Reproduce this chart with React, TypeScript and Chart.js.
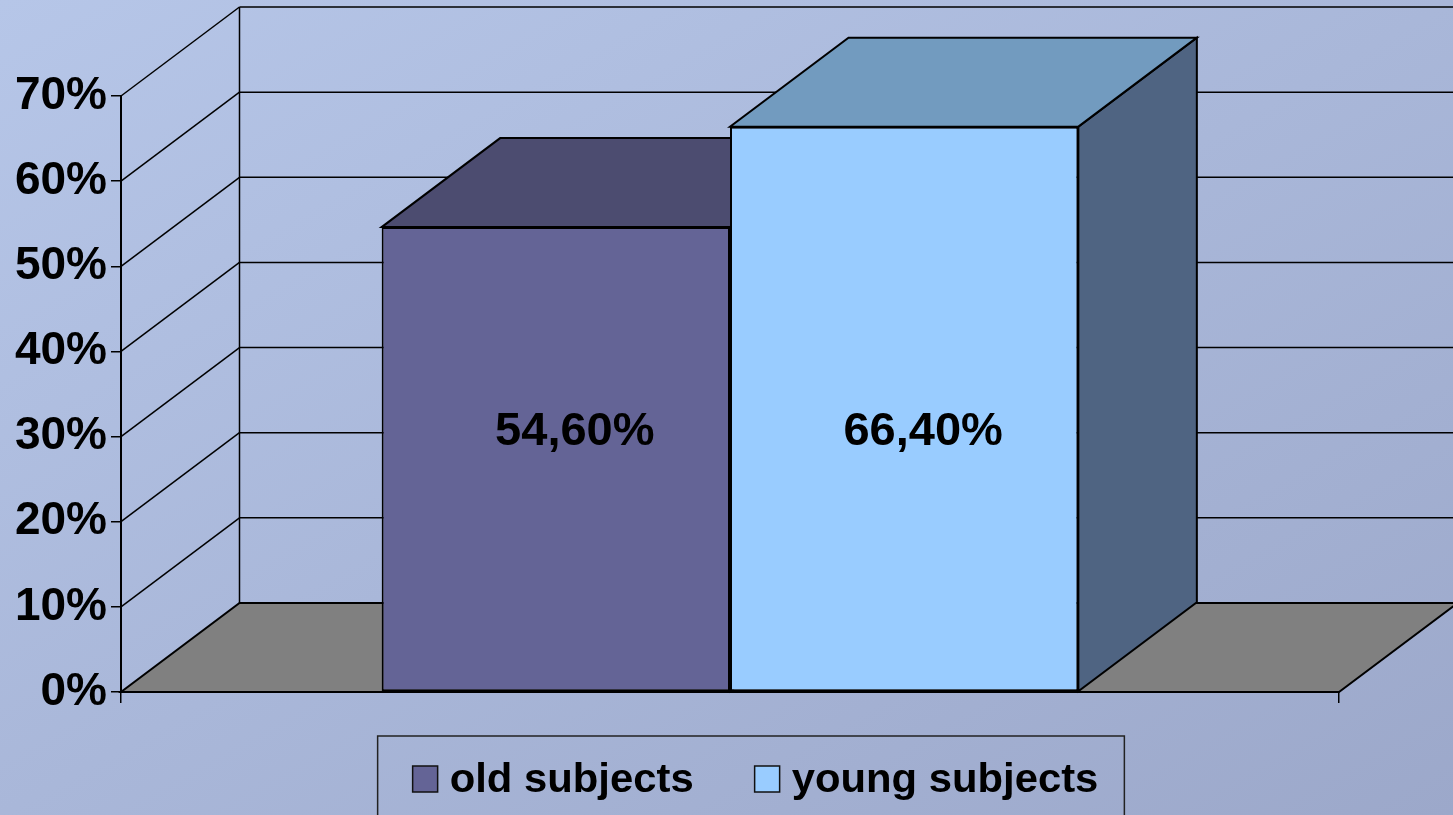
import React, { useEffect, useRef } from 'react';
import { Chart, registerables } from 'chart.js';

Chart.register(...registerables);

const CATEGORIES = [''];
const SERIES_LABELS = ['old subjects', 'young subjects'];
const OLD_VALUES = [54.6];
const YOUNG_VALUES = [66.4];
const VALUE_LABELS = ['54,60%', '66,40%'];
const Y_TICKS = [0, 10, 20, 30, 40, 50, 60, 70];

const FRONT_COLORS = ['#646496', '#99ccff'];
const TOP_COLORS = ['#4c4c70', '#729bbf'];
const SIDE_COLORS = ['#4b4b6f', '#4f6482'];

const FONT = "'Liberation Sans', Arial, Helvetica, sans-serif";
const DX = 118.5;
const DY = -89;
const LABEL_LEVEL = 29;
const LABEL_DX = 19;

function poly(ctx: CanvasRenderingContext2D, pts: number[][], fill: string) {
  ctx.beginPath();
  ctx.moveTo(pts[0][0], pts[0][1]);
  for (let i = 1; i < pts.length; i++) ctx.lineTo(pts[i][0], pts[i][1]);
  ctx.closePath();
  ctx.fillStyle = fill;
  ctx.fill();
  ctx.stroke();
}

const threeD = {
  id: 'threeD',
  beforeDatasetsDraw(chart: any) {
    const { ctx, chartArea: a } = chart;
    const y = chart.scales.y;
    ctx.save();
    ctx.strokeStyle = '#000';
    ctx.lineJoin = 'miter';
    ctx.lineWidth = 1.5;
    for (const v of Y_TICKS) {
      if (v === 0) continue;
      const py = y.getPixelForValue(v);
      ctx.beginPath();
      ctx.moveTo(a.left + DX, py + DY);
      ctx.lineTo(a.right + DX, py + DY);
      ctx.stroke();
      ctx.beginPath();
      ctx.moveTo(a.left, py);
      ctx.lineTo(a.left + DX, py + DY);
      ctx.stroke();
    }
    const topB = y.getPixelForValue(y.max) + DY;
    const y0 = y.getPixelForValue(0);
    ctx.beginPath();
    ctx.moveTo(a.left + DX, topB);
    ctx.lineTo(a.left + DX, y0 + DY);
    ctx.stroke();
    ctx.lineWidth = 2;
    poly(ctx, [[a.left, y0], [a.right, y0], [a.right + DX, y0 + DY], [a.left + DX, y0 + DY]], '#808080');
    chart.data.datasets.forEach((_ds: any, i: number) => {
      const meta = chart.getDatasetMeta(i);
      meta.data.forEach((bar: any) => {
        const { x, y: top, base, width } = bar.getProps(['x', 'y', 'base', 'width'], true);
        const x1 = x - width / 2;
        const x2 = x + width / 2;
        poly(ctx, [[x2, top], [x2 + DX, top + DY], [x2 + DX, base + DY], [x2, base]], SIDE_COLORS[i]);
        poly(ctx, [[x1, top], [x2, top], [x2 + DX, top + DY], [x1 + DX, top + DY]], TOP_COLORS[i]);
      });
    });
    ctx.restore();
  },
  afterDatasetsDraw(chart: any) {
    const { ctx } = chart;
    const y = chart.scales.y;
    ctx.save();
    ctx.font = `bold 47px ${FONT}`;
    ctx.fillStyle = '#000';
    ctx.textAlign = 'center';
    ctx.textBaseline = 'alphabetic';
    chart.data.datasets.forEach((_ds: any, i: number) => {
      const meta = chart.getDatasetMeta(i);
      meta.data.forEach((bar: any) => {
        const { x } = bar.getProps(['x'], true);
        ctx.fillText(VALUE_LABELS[i], x + LABEL_DX, y.getPixelForValue(LABEL_LEVEL));
      });
    });
    ctx.restore();
  },
  afterDraw(chart: any) {
    const { ctx, chartArea: a } = chart;
    const SX = 1.02;
    ctx.save();
    ctx.font = `bold 41px ${FONT}`;
    const widths = SERIES_LABELS.map((t) => ctx.measureText(t).width * SX);
    const padL = 35, padR = 26, mark = 25, gap = 12, between = 61;
    const total = padL + mark + gap + widths[0] + between + mark + gap + widths[1] + padR;
    const cx = (a.left + a.right) / 2 + 21;
    const left = cx - total / 2;
    const top = a.bottom + 44;
    ctx.strokeStyle = '#222';
    ctx.lineWidth = 1.5;
    ctx.strokeRect(left, top, total, 120);
    let x = left + padL;
    const baseline = top + 56;
    SERIES_LABELS.forEach((t, i) => {
      ctx.fillStyle = FRONT_COLORS[i];
      ctx.fillRect(x, top + 30, mark, mark + 1);
      ctx.lineWidth = 1.5;
      ctx.strokeStyle = '#111';
      ctx.strokeRect(x, top + 30, mark, mark + 1);
      x += mark + gap;
      ctx.save();
      ctx.translate(x, baseline);
      ctx.scale(SX, 1);
      ctx.fillStyle = '#000';
      ctx.textBaseline = 'alphabetic';
      ctx.textAlign = 'left';
      ctx.fillText(t, 0, 0);
      ctx.restore();
      x += widths[i] + between;
    });
    ctx.restore();
  },
};

export default function App() {
  const ref = useRef<HTMLCanvasElement>(null);
  useEffect(() => {
    if (!ref.current) return;
    const chart = new Chart(ref.current, {
      type: 'bar',
      data: {
        labels: CATEGORIES,
        datasets: [
          { label: SERIES_LABELS[0], data: OLD_VALUES, backgroundColor: FRONT_COLORS[0] },
          { label: SERIES_LABELS[1], data: YOUNG_VALUES, backgroundColor: FRONT_COLORS[1] },
        ].map((d) => ({
          ...d,
          borderColor: '#000',
          borderWidth: 2,
          borderSkipped: false,
          barPercentage: 1,
          categoryPercentage: 0.572,
        })),
      },
      options: {
        animation: false,
        responsive: false,
        events: [],
        layout: { padding: { top: 96, right: 114, left: 0, bottom: 0 } },
        plugins: { legend: { display: false }, tooltip: { enabled: false } },
        scales: {
          x: {
            ticks: { display: false },
            grid: { drawOnChartArea: false, drawTicks: true, tickLength: 11, color: '#000', lineWidth: 1.5 },
            border: { display: true, color: '#000', width: 2 },
            afterFit: (s: any) => { s.height = 123; },
          },
          y: {
            min: 0,
            max: 70,
            afterBuildTicks: (s: any) => { s.ticks = Y_TICKS.map((v) => ({ value: v })); },
            ticks: {
              callback: (v: any) => `${v}%`,
              color: '#000',
              padding: 4,
              font: { family: FONT, size: 46, weight: 'bold' },
            },
            grid: { drawOnChartArea: false, drawTicks: true, tickLength: 10, color: '#000', lineWidth: 1.5 },
            border: { display: true, color: '#000', width: 2 },
            afterFit: (s: any) => { s.width = 121; },
          },
        },
      },
      plugins: [threeD],
    });
    return () => chart.destroy();
  }, []);
  return (
    <div
      style={{
        position: 'fixed',
        left: 0,
        top: 0,
        width: 1453,
        height: 815,
        background: 'linear-gradient(to bottom right, #b6c6e8 0%, #9ca8ca 100%)',
        overflow: 'hidden',
      }}
    >
      <canvas ref={ref} width={1453} height={815} style={{ display: 'block' }} />
    </div>
  );
}
